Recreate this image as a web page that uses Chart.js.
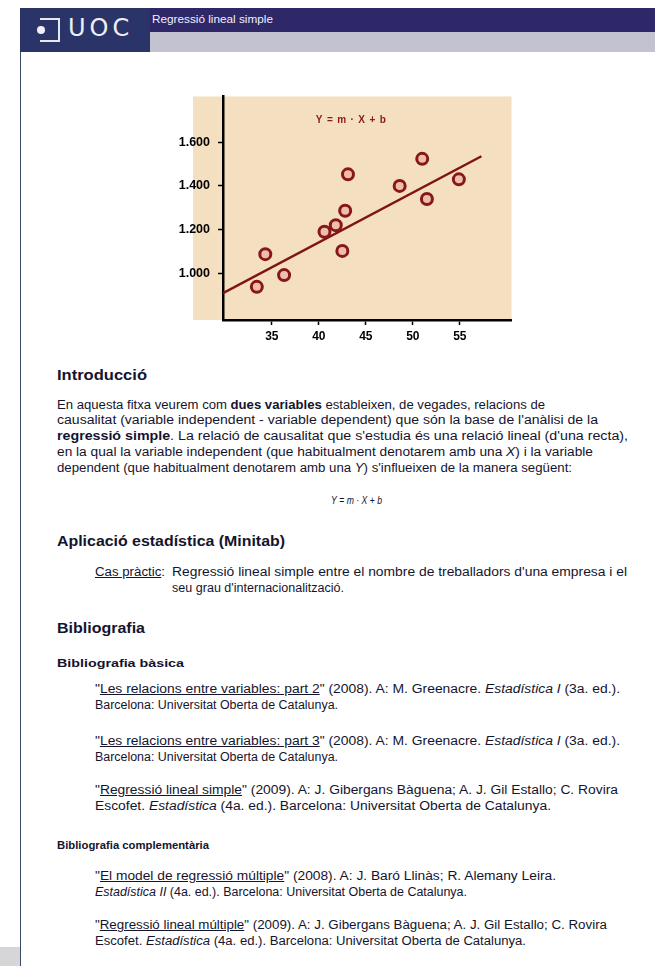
<!DOCTYPE html>
<html><head><meta charset="utf-8">
<script src="https://cdn.jsdelivr.net/npm/chart.js@4.4.1/dist/chart.umd.min.js"></script>
<style>
html,body{margin:0;padding:0;background:#fff;width:657px;height:966px;overflow:hidden;font-family:"Liberation Sans",Arial,sans-serif;color:#14142e;}
.abs{position:absolute;white-space:nowrap;}
.t{font-size:12px;line-height:16px;transform-origin:0 50%;}
.h{font-size:14px;font-weight:bold;line-height:16px;transform-origin:0 50%;}
.h2{font-size:11.5px;font-weight:bold;line-height:16px;transform-origin:0 50%;}
u{text-decoration:underline;}
</style></head><body>
<div class="abs" style="left:20px;top:8px;width:130px;height:44px;background:#2b3468;"></div>
<div class="abs" style="left:150px;top:8px;width:505px;height:24px;background:#2e2768;"></div>
<div class="abs" style="left:150px;top:32px;width:505px;height:20px;background:#c2c2d0;"></div>
<div class="abs" style="left:40px;top:18px;width:20px;height:24px;border:2px solid #e8e8f0;border-left:none;box-sizing:border-box;"></div>
<div class="abs" style="left:37px;top:26px;width:8px;height:8px;border-radius:50%;background:#f0f0f8;"></div>
<div class="abs" style="left:68px;top:15px;font-size:24px;line-height:26px;color:#eef0f8;letter-spacing:4px;font-family:'DejaVu Sans',sans-serif;">UOC</div>
<div class="abs t" data-w="121" style="left:152px;top:11px;color:#f0f0ff;font-size:11px;">Regressió lineal simple</div>
<div class="abs" style="left:20px;top:52px;width:1px;height:914px;background:#3a4a6a;"></div>
<div class="abs" style="left:0px;top:947px;width:20px;height:19px;background:#d6d6d8;"></div>

<div class="abs" style="left:160px;top:81px;width:360px;height:269px;"><canvas id="c"></canvas></div>

<div class="abs h" data-w="90" style="left:57px;top:367px;">Introducció</div>
<div class="abs t" data-w="488" style="left:57px;top:397px;">En aquesta fitxa veurem com <b>dues variables</b> estableixen, de vegades, relacions de</div>
<div class="abs t" data-w="541" style="left:57px;top:412px;">causalitat (variable independent - variable dependent) que són la base de l'anàlisi de la</div>
<div class="abs t" data-w="571" style="left:57px;top:428px;"><b>regressió simple</b>. La relació de causalitat que s'estudia és una relació lineal (d'una recta),</div>
<div class="abs t" data-w="536" style="left:57px;top:444px;">en la qual la variable independent (que habitualment denotarem amb una <i>X</i>) i la variable</div>
<div class="abs t" data-w="515" style="left:57px;top:460px;">dependent (que habitualment denotarem amb una <i>Y</i>) s'influeixen de la manera següent:</div>
<div class="abs t" data-w="51" style="left:331px;top:492px;font-size:11px;"><i>Y</i> = <i>m</i> · <i>X</i> + <i>b</i></div>

<div class="abs h" data-w="228" style="left:57px;top:533px;">Aplicació estadística (Minitab)</div>
<div class="abs t" data-w="70" style="left:95px;top:564px;"><u>Cas pràctic</u>:</div>
<div class="abs t" data-w="455" style="left:172px;top:564px;">Regressió lineal simple entre el nombre de treballadors d'una empresa i el</div>
<div class="abs t" data-w="172" style="left:172px;top:580px;">seu grau d'internacionalització.</div>

<div class="abs h" data-w="88" style="left:57px;top:620px;">Bibliografia</div>
<div class="abs h2" data-w="127" style="left:57px;top:655px;">Bibliografia bàsica</div>

<div class="abs t" data-w="525" style="left:95px;top:681px;">"<u>Les relacions entre variables: part 2</u>" (2008). A: M. Greenacre. <i>Estadística I</i> (3a. ed.).</div>
<div class="abs t" data-w="243" style="left:95px;top:697px;">Barcelona: Universitat Oberta de Catalunya.</div>
<div class="abs t" data-w="525" style="left:95px;top:733px;">"<u>Les relacions entre variables: part 3</u>" (2008). A: M. Greenacre. <i>Estadística I</i> (3a. ed.).</div>
<div class="abs t" data-w="243" style="left:95px;top:749px;">Barcelona: Universitat Oberta de Catalunya.</div>
<div class="abs t" data-w="523" style="left:95px;top:782px;">"<u>Regressió lineal simple</u>" (2009). A: J. Gibergans Bàguena; A. J. Gil Estallo; C. Rovira</div>
<div class="abs t" data-w="456" style="left:95px;top:798px;">Escofet. <i>Estadística</i> (4a. ed.). Barcelona: Universitat Oberta de Catalunya.</div>

<div class="abs h2" data-w="152" style="left:57px;top:837px;">Bibliografia complementària</div>
<div class="abs t" data-w="461" style="left:95px;top:868px;">"<u>El model de regressió múltiple</u>" (2008). A: J. Baró Llinàs; R. Alemany Leira.</div>
<div class="abs t" data-w="372" style="left:95px;top:884px;"><i>Estadística II</i> (4a. ed.). Barcelona: Universitat Oberta de Catalunya.</div>
<div class="abs t" data-w="512" style="left:95px;top:917px;">"<u>Regressió lineal múltiple</u>" (2009). A: J. Gibergans Bàguena; A. J. Gil Estallo; C. Rovira</div>
<div class="abs t" data-w="431" style="left:95px;top:933px;">Escofet. <i>Estadística</i> (4a. ed.). Barcelona: Universitat Oberta de Catalunya.</div>

<script>
// Data
const xValues = [33.4, 34.3, 36.3, 40.6, 41.8, 42.5, 42.8, 43.1, 48.6, 51.0, 51.5, 54.9];
const yValues = [937, 1087, 991, 1190, 1220, 1102, 1286, 1453, 1400, 1524, 1340, 1430];
const lineX = [29.8, 57.3];
const lineY = [908, 1536];
const xTicks = [35, 40, 45, 50, 55];
const yTicks = [1000, 1200, 1400, 1600];
const equationLabel = "Y = m · X + b";

document.querySelectorAll('[data-w]').forEach(el => {
  const w = el.getBoundingClientRect().width;
  const target = parseFloat(el.dataset.w);
  if (w > 0) el.style.transform = 'scaleX(' + (target / w) + ')';
});

const bgPlugin = {
  id: 'bg',
  beforeDraw(chart) {
    const a = chart.chartArea, ctx = chart.ctx;
    ctx.save();
    ctx.fillStyle = '#f4dfc0';
    ctx.fillRect(a.left - 30, a.top, a.right - a.left + 30, a.bottom - a.top);
    ctx.restore();
  },
  afterDatasetsDraw(chart) {
    const ctx = chart.ctx;
    const xs = chart.scales.x, ys = chart.scales.y;
    ctx.save();
    ctx.fillStyle = '#8a1a1a';
    ctx.font = 'bold 10px "Liberation Sans", Arial, sans-serif';
    ctx.textAlign = 'center';
    ctx.textBaseline = 'middle';
    ctx.fillText(equationLabel.split('').join(String.fromCharCode(8202)), xs.getPixelForValue(43.4), ys.getPixelForValue(1700));
    ctx.restore();
  }
};

new Chart(document.getElementById('c'), {
  type: 'scatter',
  data: {
    datasets: [
      {
        type: 'line',
        data: lineX.map((x, i) => ({x: x, y: lineY[i]})),
        borderColor: '#7e1414',
        borderWidth: 2.5,
        pointRadius: 0,
        fill: false,
        order: 2
      },
      {
        data: xValues.map((x, i) => ({x: x, y: yValues[i]})),
        pointRadius: 5.5,
        pointBorderWidth: 3,
        pointBorderColor: '#861818',
        pointBackgroundColor: '#f0bcae',
        order: 1
      }
    ]
  },
  options: {
    responsive: true,
    maintainAspectRatio: false,
    animation: false,
    layout: {padding: {top: 5, right: 8, left: 0, bottom: 0}},
    plugins: {legend: {display: false}, tooltip: {enabled: false}},
    scales: {
      x: {
        type: 'linear', min: 29.8, max: 60.5,
        afterBuildTicks: s => { s.ticks = xTicks.map(v => ({value: v})); },
        afterFit: s => { s.height = 30; },
        grid: {display: true, drawOnChartArea: false, drawTicks: true, tickLength: 5, tickColor: '#000', tickWidth: 1.5},
        border: {display: true, color: '#000', width: 2.5},
        ticks: {color: '#000', font: {size: 12, weight: 'bold', family: '"Liberation Sans", Arial, sans-serif'}, padding: 4, maxRotation: 0}
      },
      y: {
        type: 'linear', min: 785, max: 1810,
        afterBuildTicks: s => { s.ticks = yTicks.map(v => ({value: v})); },
        afterFit: s => { s.width = 63; },
        grid: {display: true, drawOnChartArea: false, drawTicks: true, tickLength: 5, tickColor: '#000', tickWidth: 1.5},
        border: {display: true, color: '#000', width: 2.5},
        ticks: {color: '#000', font: {size: 12.5, weight: 'bold', family: '"Liberation Sans", Arial, sans-serif'}, padding: 8,
          callback: v => { const s = String(v); return s.length > 3 ? s.slice(0, s.length - 3) + '.' + s.slice(-3) : s; }}
      }
    }
  },
  plugins: [bgPlugin]
});
</script>
</body></html>
